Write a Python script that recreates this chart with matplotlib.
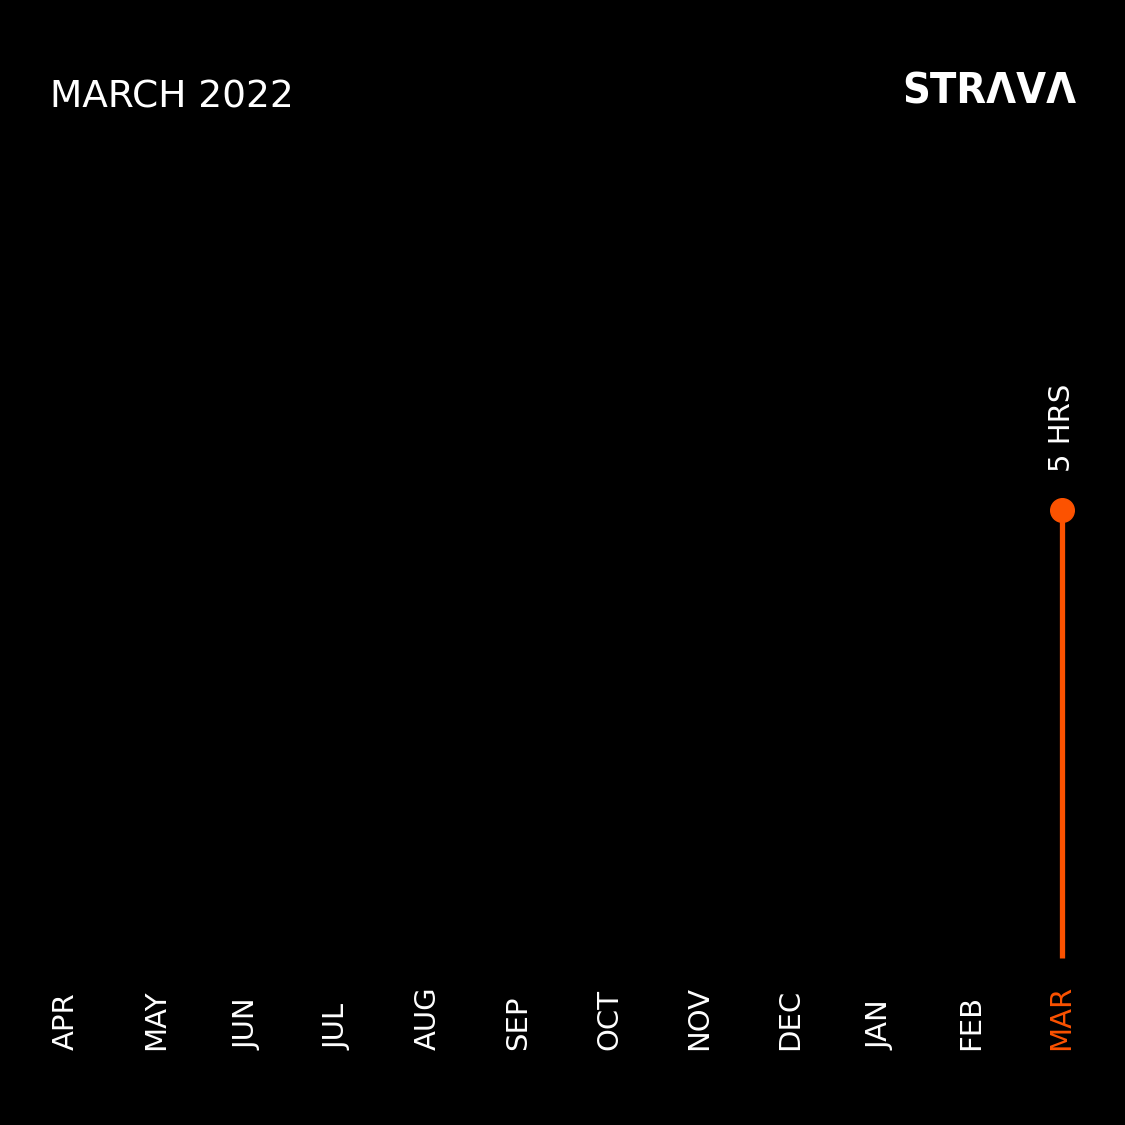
import matplotlib
matplotlib.use("Agg")
import matplotlib.pyplot as plt
from matplotlib.transforms import blended_transform_factory

months = ["APR", "MAY", "JUN", "JUL", "AUG", "SEP", "OCT", "NOV", "DEC", "JAN", "FEB", "MAR"]
hours = [0, 0, 0, 0, 0, 0, 0, 0, 0, 0, 0, 5]
value_labels = ["", "", "", "", "", "", "", "", "", "", "", "5 HRS"]
title = "MARCH 2022"
brand = "STRΛVΛ"
current = "MAR"

ORANGE = "#FC5200"
BG = "#000000"

W = H = 1125
fig = plt.figure(figsize=(11.25, 11.25), dpi=100, facecolor=BG)
ax = fig.add_axes([0, 0, 1, 1])
ax.set_facecolor(BG)
ax.set_axis_off()

step = 90.5
x0 = 66
ax.set_xlim(-x0 / step, (W - x0) / step)
scale = 89.6
base = 167
ymin = -base / scale
ax.set_ylim(ymin, ymin + H / scale)

xs = list(range(len(months)))
for x, v, lab in zip(xs, hours, value_labels):
    if v > 0:
        ax.plot([x, x], [0, v], color=ORANGE, lw=3.8, solid_capstyle="butt", zorder=2)
        ax.plot([x], [v], "o", color=ORANGE, ms=17, zorder=3)
        ax.annotate(lab, (x, v), xytext=(0, 38), textcoords="offset pixels",
                    rotation=90, ha="center", va="bottom", color="white",
                    fontsize=21, family="DejaVu Sans")

tr = blended_transform_factory(ax.transData, fig.transFigure)
for x, m in zip(xs, months):
    ax.text(x, 75 / H, m, transform=tr, rotation=90, ha="center", va="bottom",
            color=ORANGE if m == current else "white", fontsize=21,
            family="DejaVu Sans")

fig.text(50 / W, 1 - 108 / H, title, color="white", fontsize=27,
         ha="left", va="baseline", family="DejaVu Sans")
fig.text(1076 / W, 1 - 104 / H, brand, color="white", fontsize=31,
         fontweight="bold", fontstretch="condensed", ha="right", va="baseline",
         family="DejaVu Sans")

fig.savefig("out.png", dpi=100, facecolor=BG)
